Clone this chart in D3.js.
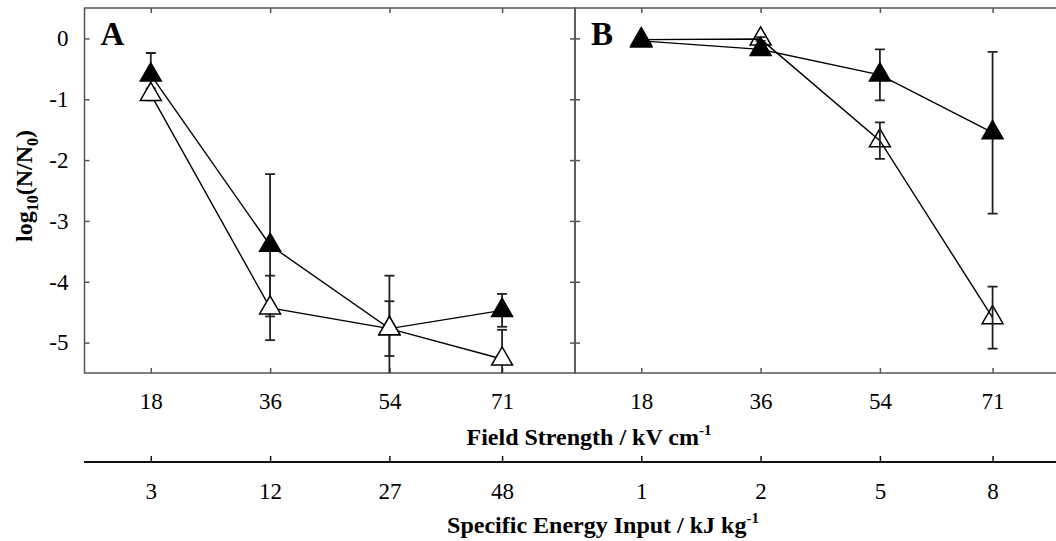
<!DOCTYPE html>
<html>
<head>
<meta charset="utf-8">
<script src="https://cdn.jsdelivr.net/npm/d3@7"></script>
<style>
  html, body { margin: 0; padding: 0; background: #fff; }
  svg { display: block; }
  text { font-family: "Liberation Serif", "Times New Roman", serif; fill: #000; }
</style>
</head>
<body>
<svg id="chart" width="1056" height="541"></svg>
<script>
// ---- data ----
const fieldStrength = [18, 36, 54, 71];            // kV/cm
const energyLabelsA = ["3", "12", "27", "48"];      // kJ/kg
const energyLabelsB = ["1", "2", "5", "8"];
const yTicks = [0, -1, -2, -3, -4, -5];

const aFilled    = [-0.60, -3.40, -4.77, -4.47];
const aFilledErr = [0.36, 1.17, 0.87, 0.27];
const aOpen      = [-0.92, -4.43, -4.77, -5.27];
const aOpenErr   = [0.10, 0.53, 0.45, 0.48];

const bFilled    = [-0.04, -0.18, -0.60, -1.55];
const bFilledErr = [0.03, 0.03, 0.42, 1.33];
const bOpen      = [-0.02, -0.01, -1.68, -4.59];
const bOpenErr   = [0.03, 0.03, 0.30, 0.51];

// ---- layout ----
const svg = d3.select("#chart");
const plotTop = 8, plotBottom = 373;
const y = d3.scaleLinear().domain([-5.5, 0.5]).range([plotBottom, plotTop]);
const xA = d3.scaleLinear().domain([8, 82]).range([84.5, 575]);
const xB = d3.scaleLinear().domain([8, 82]).range([575, 1065.5]);

const frameColor = "#555";
const clipId = "clip";
svg.append("clipPath").attr("id", clipId)
  .append("rect").attr("x", 84.5).attr("y", plotTop).attr("width", 1065.5 - 84.5).attr("height", plotBottom - plotTop);

function styleAxis(g, color) {
  g.select(".domain").remove();
  g.selectAll(".tick line").attr("stroke", color).attr("stroke-width", 1.5);
  g.selectAll(".tick text").style("font-size", "23px").attr("fill", "#000")
   .style("font-family", '"Liberation Serif", "Times New Roman", serif');
}

function panel(x, filled, filledErr, open, openErr, label, openOnTop, showYLabels) {
  const x0 = x.range()[0], x1 = x.range()[1];
  const left = svg.append("g").attr("transform", `translate(${x0},0)`)
    .call(d3.axisLeft(y).tickValues(yTicks).tickSizeInner(-5).tickSizeOuter(0)
      .tickPadding(showYLabels ? 16 : 0).tickFormat(d => showYLabels ? String(d) : ""));
  styleAxis(left, frameColor);
  const right = svg.append("g").attr("transform", `translate(${x1},0)`)
    .call(d3.axisRight(y).tickValues(yTicks).tickSizeInner(-5).tickSizeOuter(0).tickFormat(""));
  styleAxis(right, frameColor);
  const topAx = svg.append("g").attr("transform", `translate(0,${plotTop})`)
    .call(d3.axisTop(x).tickValues(fieldStrength).tickSizeInner(-5).tickSizeOuter(0).tickFormat(""));
  styleAxis(topAx, frameColor);
  const botAx = svg.append("g").attr("transform", `translate(0,${plotBottom})`)
    .call(d3.axisBottom(x).tickValues(fieldStrength).tickSizeInner(-5).tickSizeOuter(0)
      .tickPadding(20).tickFormat(d => String(d)));
  styleAxis(botAx, frameColor);

  svg.append("rect").attr("x", x0).attr("y", plotTop).attr("width", x1 - x0).attr("height", plotBottom - plotTop)
    .attr("fill", "none").attr("stroke", frameColor).attr("stroke-width", 1.5);

  const plot = svg.append("g").attr("clip-path", `url(#${clipId})`);
  const line = d3.line().x((d, i) => x(fieldStrength[i])).y(d => y(d));
  const tri = d3.symbol().type(d3.symbolTriangle).size(190);

  function drawLine(vals) {
    plot.append("path").datum(vals).attr("d", line)
      .attr("fill", "none").attr("stroke", "#000").attr("stroke-width", 1.4);
  }
  function drawErr(vals, errs) {
    const g = plot.append("g").attr("stroke", "#222").attr("stroke-width", 1.8);
    vals.forEach((v, i) => {
      const cx = x(fieldStrength[i]);
      const yt = y(v + errs[i]), yb = y(v - errs[i]);
      g.append("line").attr("x1", cx).attr("x2", cx).attr("y1", yt).attr("y2", yb);
      g.append("line").attr("x1", cx - 5).attr("x2", cx + 5).attr("y1", yt).attr("y2", yt);
      g.append("line").attr("x1", cx - 5).attr("x2", cx + 5).attr("y1", yb).attr("y2", yb);
    });
  }
  function drawMarkers(vals, fill) {
    plot.append("g").selectAll("path").data(vals).join("path")
      .attr("d", tri)
      .attr("transform", (d, i) => `translate(${x(fieldStrength[i])},${y(d)})`)
      .attr("fill", fill).attr("stroke", "#000").attr("stroke-width", 1.5);
  }

  if (openOnTop) {
    drawLine(filled); drawLine(open);
    drawErr(filled, filledErr); drawErr(open, openErr);
    drawMarkers(filled, "#000");
    drawMarkers(open, "#fff");
  } else {
    drawMarkers(open, "#fff");
    drawLine(filled); drawLine(open);
    drawErr(open, openErr); drawErr(filled, filledErr);
    drawMarkers(filled, "#000");
  }

  svg.append("text").attr("x", x0 + 16).attr("y", 45)
    .style("font-size", "33px").style("font-weight", "bold").text(label);
}

panel(xA, aFilled, aFilledErr, aOpen, aOpenErr, "A", true, true);
panel(xB, bFilled, bFilledErr, bOpen, bOpenErr, "B", false, false);

// second axis (specific energy input)
const axis2Y = 462;
svg.append("line").attr("x1", 84).attr("x2", 1065).attr("y1", axis2Y).attr("y2", axis2Y)
  .attr("stroke", "#111").attr("stroke-width", 2);
[[xA, energyLabelsA], [xB, energyLabelsB]].forEach(([sc, labels]) => {
  const g = svg.append("g").attr("transform", `translate(0,${axis2Y})`)
    .call(d3.axisBottom(sc).tickValues(fieldStrength).tickSizeInner(-6).tickSizeOuter(0)
      .tickPadding(21).tickFormat((d, i) => labels[i]));
  styleAxis(g, "#111");
});

// axis titles
const t1 = svg.append("text").attr("x", 589).attr("y", 445).attr("text-anchor", "middle")
  .style("font-size", "24px").style("font-weight", "bold");
t1.append("tspan").text("Field Strength / kV cm");
t1.append("tspan").attr("dy", -10).style("font-size", "15px").text("-1");

const t2 = svg.append("text").attr("x", 603).attr("y", 533).attr("text-anchor", "middle")
  .style("font-size", "24px").style("font-weight", "bold");
t2.append("tspan").text("Specific Energy Input / kJ kg");
t2.append("tspan").attr("dy", -10).style("font-size", "15px").text("-1");

const yl = svg.append("text").attr("transform", "translate(32,186) rotate(-90)")
  .attr("text-anchor", "middle").style("font-size", "24px").style("font-weight", "bold");
yl.append("tspan").text("log");
yl.append("tspan").attr("dy", 6).style("font-size", "16px").text("10");
yl.append("tspan").attr("dy", -6).text("(N/N");
yl.append("tspan").attr("dy", 6).style("font-size", "16px").text("0");
yl.append("tspan").attr("dy", -6).text(")");
</script>
</body>
</html>
